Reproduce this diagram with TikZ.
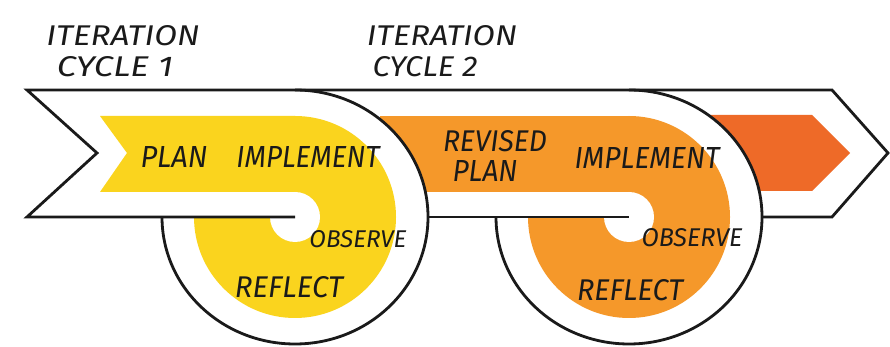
\documentclass[tikz,border=0pt]{standalone}
\usepackage{fontspec}
\setmainfont{Fira Sans}
\usepackage{graphicx}
\definecolor{cyellow}{HTML}{FAD41E}
\definecolor{corange}{HTML}{F5982A}
\definecolor{cdark}{HTML}{EE6A28}
\definecolor{cline}{HTML}{1A1A1A}
\newcommand{\hw}[3]{\resizebox{#1pt}{#2pt}{#3}}
\begin{document}
\begin{tikzpicture}[x=1pt,y=1pt,
  outline/.style={draw=cline, line width=2.8pt, line join=miter, line cap=butt},
  hand/.style={inner sep=0pt, text=cline, font=\itshape}]
\useasboundingbox (0,0) rectangle (890,347);
\fill[white] (0,0) rectangle (890,347);

\coordinate (c1) at (295,130);
\coordinate (c2) at (629,130);

% dark orange arrow (end)
\fill[cdark] (690,232) -- (812,232) -- (850,194) -- (812,156) -- (690,156) -- cycle;
\fill[white] (c2) ellipse [x radius=133, y radius=127];
% cycle 2 (orange)
\fill[corange] (380,231) -- (629,231) -- (629,155) -- (380,155) -- cycle;
\fill[corange] (c2) circle[radius=101];
\fill[white] (c1) ellipse [x radius=133, y radius=127];
% cycle 1 (yellow)
\fill[cyellow] (100,231) -- (127,194) -- (100,155) -- (295,155) -- (295,231) -- cycle;
\fill[cyellow] (c1) circle[radius=101];
% white channels
\fill[white] (90,130) rectangle (295,155);
\fill[white] (c1) circle[radius=25];
\fill[white] (400,130) rectangle (629,155);
\fill[white] (c2) circle[radius=25];

% black outline
\draw[outline] (c1) -- (27,130) -- (97,194) -- (27,257) -- (832,257) -- (888,194) -- (832,130) -- (762,130);
\draw[outline] (295,257) arc[start angle=90, end angle=-180, x radius=133, y radius=127];
\draw[outline] (428,130) -- (c2);
\draw[outline] (629,257) arc[start angle=90, end angle=-180, x radius=133, y radius=127];

% texts
\node[hand] (it1) at (123,311) {\hw{153}{20}{ITERATION}};
\node[hand] (cy1) at (115,280) {\hw{116}{20}{CYCLE 1}};
\node[hand] (it2) at (442,311) {\hw{150}{20}{ITERATION}};
\node[hand] (cy2) at (425,280) {\hw{105}{20}{CYCLE 2}};
\node[hand] (plan1) at (174,190) {\hw{67}{21}{PLAN}};
\node[hand] (imp1) at (308,190) {\hw{143}{21}{IMPLEMENT}};
\node[hand] (rev) at (495,206) {\hw{104}{21}{REVISED}};
\node[hand] (plan2) at (485,176) {\hw{65}{21}{PLAN}};
\node[hand] (imp2) at (647,189) {\hw{145}{21}{IMPLEMENT}};
\node[hand] (obs1) at (358,108) {\hw{97}{17}{OBSERVE}};
\node[hand] (ref1) at (289,60) {\hw{108}{21}{REFLECT}};
\node[hand] (obs2) at (692,109) {\hw{101}{18}{OBSERVE}};
\node[hand] (ref2) at (630,57) {\hw{106}{21}{REFLECT}};
\end{tikzpicture}
\end{document}
